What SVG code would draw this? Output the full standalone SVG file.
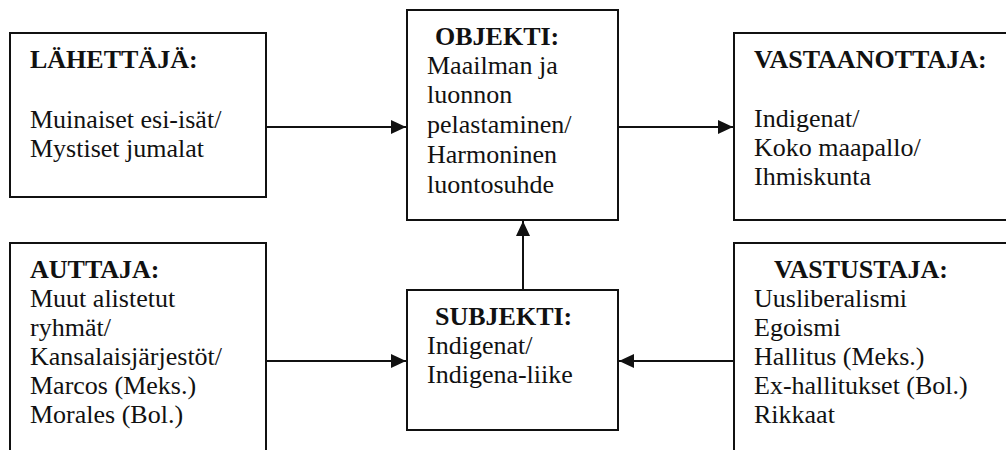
<svg xmlns="http://www.w3.org/2000/svg" width="1006" height="450" viewBox="0 0 1006 450">
  <style>
    .box { fill: #fff; stroke: #111; stroke-width: 2; }
    .edge { fill: none; stroke: #111; stroke-width: 2; }
    text { font-family: "Liberation Serif", "Times New Roman", serif; font-size: 26px; fill: #111; }
    .hd { font-weight: bold; }
  </style>
  <defs>
    <marker id="arrow" viewBox="0 0 15 14" refX="15" refY="7" markerWidth="15" markerHeight="14" markerUnits="userSpaceOnUse" orient="auto">
      <path d="M0,0 L15,7 L0,14 Z" fill="#111"/>
    </marker>
  </defs>

  <g id="connectors">
    <line class="edge" x1="266" y1="127" x2="406" y2="127" marker-end="url(#arrow)"/>
    <line class="edge" x1="618" y1="127" x2="733" y2="127" marker-end="url(#arrow)"/>
    <line class="edge" x1="523" y1="290" x2="523" y2="221" marker-end="url(#arrow)"/>
    <line class="edge" x1="266" y1="361" x2="406" y2="361" marker-end="url(#arrow)"/>
    <line class="edge" x1="734" y1="361" x2="619" y2="361" marker-end="url(#arrow)"/>
  </g>

  <g id="lahettaja">
    <rect class="box" x="10" y="33" width="256" height="164"/>
    <text class="hd" x="30" y="68">LÄHETTÄJÄ:</text>
    <text x="30" y="128">Muinaiset esi-isät/</text>
    <text x="30" y="157">Mystiset jumalat</text>
  </g>

  <g id="objekti">
    <rect class="box" x="407" y="10" width="211" height="210"/>
    <text class="hd" x="435" y="45">OBJEKTI:</text>
    <text x="427" y="74">Maailman ja</text>
    <text x="427" y="103">luonnon</text>
    <text x="427" y="133">pelastaminen/</text>
    <text x="427" y="163">Harmoninen</text>
    <text x="427" y="193">luontosuhde</text>
  </g>

  <g id="vastaanottaja">
    <path class="box" d="M1007,33 H734 V220 H1007"/>
    <text class="hd" x="754" y="68">VASTAANOTTAJA:</text>
    <text x="754" y="127">Indigenat/</text>
    <text x="754" y="156">Koko maapallo/</text>
    <text x="754" y="185">Ihmiskunta</text>
  </g>

  <g id="auttaja">
    <path class="box" d="M10,451 V243 H266 V451"/>
    <text class="hd" x="30" y="278">AUTTAJA:</text>
    <text x="30" y="307">Muut alistetut</text>
    <text x="30" y="336">ryhmät/</text>
    <text x="30" y="365">Kansalaisjärjestöt/</text>
    <text x="30" y="394">Marcos (Meks.)</text>
    <text x="30" y="423">Morales (Bol.)</text>
  </g>

  <g id="subjekti">
    <rect class="box" x="407" y="290" width="211" height="140"/>
    <text class="hd" x="435" y="325">SUBJEKTI:</text>
    <text x="427" y="354">Indigenat/</text>
    <text x="427" y="383">Indigena-liike</text>
  </g>

  <g id="vastustaja">
    <path class="box" d="M734,451 V243 H1007"/>
    <text class="hd" x="774" y="278">VASTUSTAJA:</text>
    <text x="754" y="307">Uusliberalismi</text>
    <text x="754" y="336">Egoismi</text>
    <text x="754" y="365">Hallitus (Meks.)</text>
    <text x="754" y="394">Ex-hallitukset (Bol.)</text>
    <text x="754" y="423">Rikkaat</text>
  </g>
</svg>
